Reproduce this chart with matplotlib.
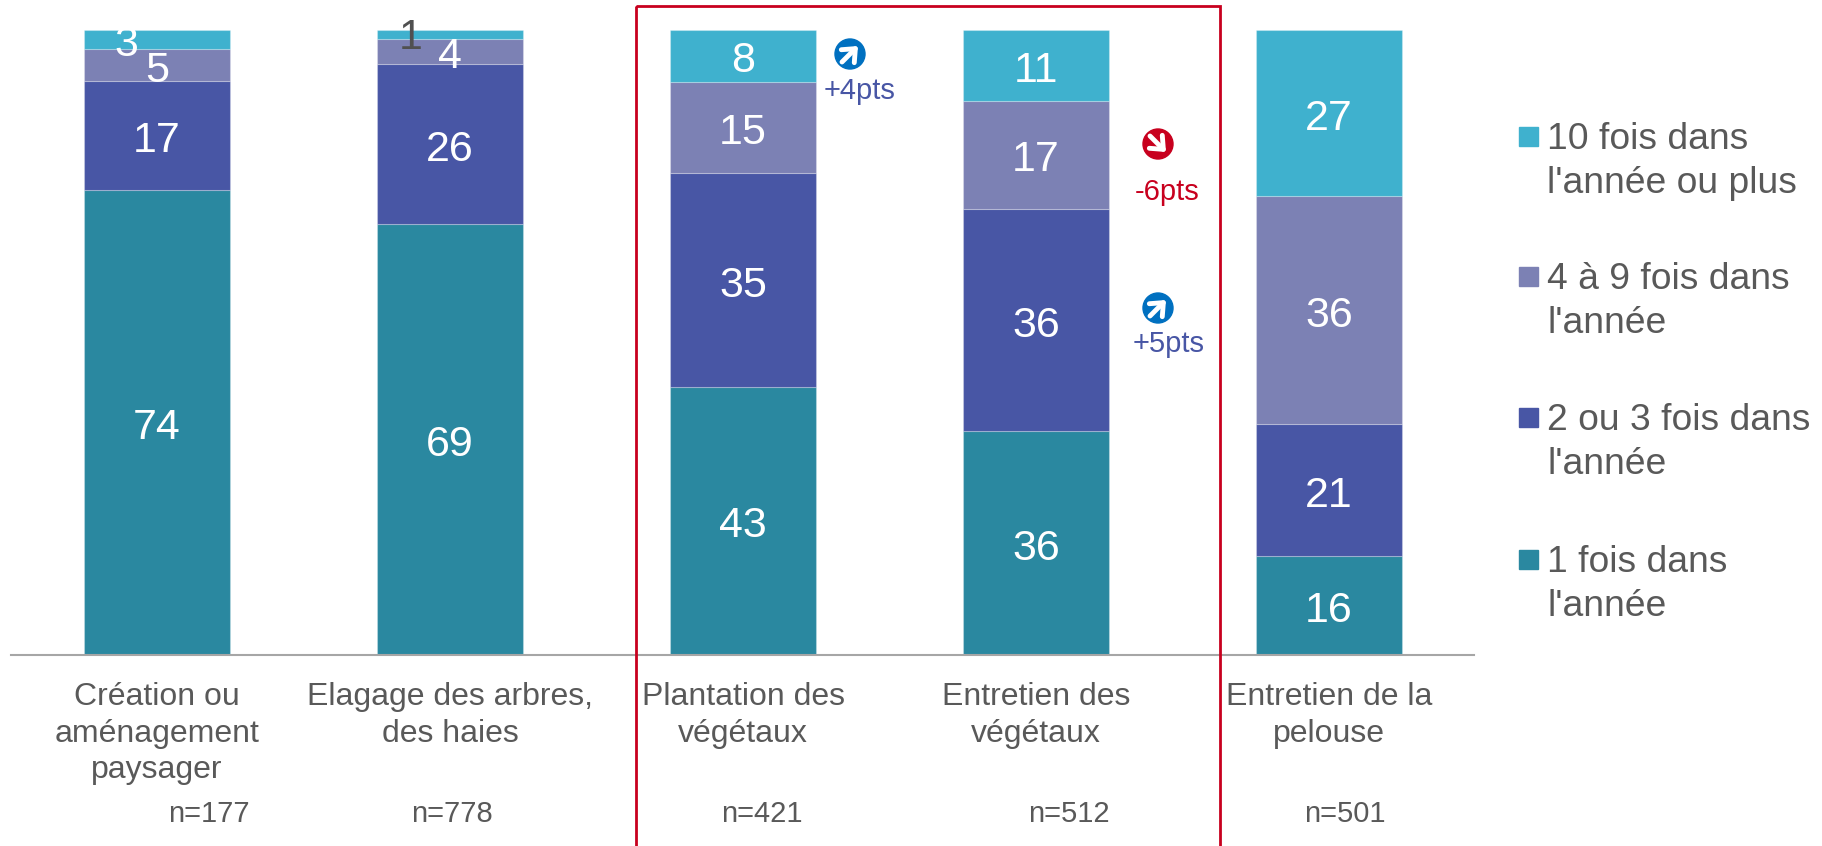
import numpy as np
import matplotlib
matplotlib.use('Agg')
import matplotlib.pyplot as plt
from matplotlib.patches import Circle, Rectangle
from matplotlib.transforms import Affine2D

plt.rcParams['font.family'] = ['Liberation Sans', 'DejaVu Sans']

# Data
categories = ['Création ou\naménagement\npaysager', 'Elagage des arbres,\ndes haies',
              'Plantation des\nvégétaux', 'Entretien des\nvégétaux', 'Entretien de la\npelouse']
sample_sizes = ['n=177', 'n=778', 'n=421', 'n=512', 'n=501']
# printed labels
once = [74, 69, 43, 36, 16]
two_three = [17, 26, 35, 36, 21]
four_nine = [5, 4, 15, 17, 36]
ten_plus = [3, 1, 8, 11, 27]
# segment heights (labels are rounded)
once_h = [74.4, 69.0, 42.9, 35.8, 15.8]
two_three_h = [17.4, 25.5, 34.2, 35.6, 21.2]
four_nine_h = [5.1, 4.0, 14.6, 17.3, 36.4]
ten_plus_h = [3.1, 1.5, 8.3, 11.3, 26.6]
series_labels = ["1 fois dans\nl'année", "2 ou 3 fois dans\nl'année",
                 "4 à 9 fois dans\nl'année", "10 fois dans\nl'année ou plus"]
colors = ['#2A88A0', '#4856A5', '#7C81B4', '#3FB1CE']

W, H = 1822, 846
GREY = '#595959'
RED = '#C8001E'
ICON_BLUE = '#0070C0'
TEXT_BLUE = '#4856A5'

fig = plt.figure(figsize=(W / 100, H / 100), dpi=100)
ax = fig.add_axes([10.5 / W, 1 - 655 / H, 1465 / W, 625 / H])
ax.patch.set_visible(False)

# pixel coordinates, origin top left
px = Affine2D().scale(1 / W, -1 / H).translate(0, 1) + fig.transFigure

series = [once, two_three, four_nine, ten_plus]
heights = np.array([once_h, two_three_h, four_nine_h, ten_plus_h])
x = np.arange(len(categories))

# Stacked bars
bottom = np.zeros(len(categories))
for j in range(len(series)):
    ax.bar(x, heights[j], 0.5, bottom=bottom, color=colors[j],
           edgecolor=(1, 1, 1, 0.25), linewidth=0.8)
    for i in range(len(categories)):
        dx, dy, col = 0, 1, 'white'
        if j == 3 and i == 0:
            dx, dy = -31, 1
        if j == 3 and i == 1:
            dx, dy, col = -39, -1, '#505050'
        ax.annotate(str(series[j][i]), (x[i], bottom[i] + heights[j][i] / 2),
                    xytext=(dx * 0.72, -dy * 0.72), textcoords='offset points',
                    ha='center', va='center_baseline', fontsize=31, color=col,
                    annotation_clip=False)
    bottom += heights[j]

ax.set_xlim(-0.5, 4.5)
ax.set_ylim(0, 100)
ax.set_yticks([])
for side in ['top', 'left', 'right']:
    ax.spines[side].set_visible(False)
ax.spines['bottom'].set_color('#A6A6A6')
ax.spines['bottom'].set_linewidth(1.5)
ax.spines['bottom'].set_bounds(-0.497, 4.495)
ax.set_xticks(x)
ax.set_xticklabels(categories, fontsize=23, color=GREY, linespacing=1.28)
ax.tick_params(axis='x', length=0, pad=19.5)

# Sample sizes
n_x = [209, 452, 762, 1069, 1345]
for i in range(len(sample_sizes)):
    ax.text(n_x[i], 814, sample_sizes[i], transform=px, ha='center', va='center',
            fontsize=21, color=GREY, clip_on=False)

# Red frame, runs off the bottom of the picture
ax.add_patch(Rectangle((636, 6), 584, 900, transform=px, fill=False, edgecolor=RED,
                       linewidth=2, clip_on=False, zorder=10))


# Evolution icons
def icon(cx, cy, col, up):
    ax.add_patch(Circle((cx, cy), 15, transform=px, color=col, clip_on=False, zorder=6))
    d = 8
    if up:
        tail, tip = (cx - d, cy + d), (cx + d, cy - d)
    else:
        tail, tip = (cx - d, cy - d), (cx + d, cy + d)
    ax.annotate('', xy=tip, xytext=tail, xycoords=px, textcoords=px, zorder=7,
                annotation_clip=False,
                arrowprops=dict(arrowstyle='->,head_length=0.35,head_width=0.3', color='white',
                                lw=3.5, shrinkA=0, shrinkB=0, mutation_scale=22))


icon(850, 54, ICON_BLUE, True)
icon(1158, 144, RED, False)
icon(1158, 308, ICON_BLUE, True)
ax.text(860, 91, '+4pts', transform=px, ha='center', va='center', fontsize=21, color=TEXT_BLUE)
ax.text(1167, 192, '-6pts', transform=px, ha='center', va='center', fontsize=21, color=RED)
ax.text(1169, 344, '+5pts', transform=px, ha='center', va='center', fontsize=21, color=TEXT_BLUE)

# Legend, top item first
legend_y = [137, 277, 418, 560]
for k in range(4):
    j = 3 - k
    ax.add_patch(Rectangle((1519, legend_y[k] - 9.5), 19, 19, transform=px, color=colors[j],
                           clip_on=False))
    ax.text(1547, legend_y[k] - 15, series_labels[j], transform=px, ha='left', va='top',
            fontsize=26.8, color=GREY, linespacing=1.32, clip_on=False)

plt.savefig('out.png', dpi=100)
